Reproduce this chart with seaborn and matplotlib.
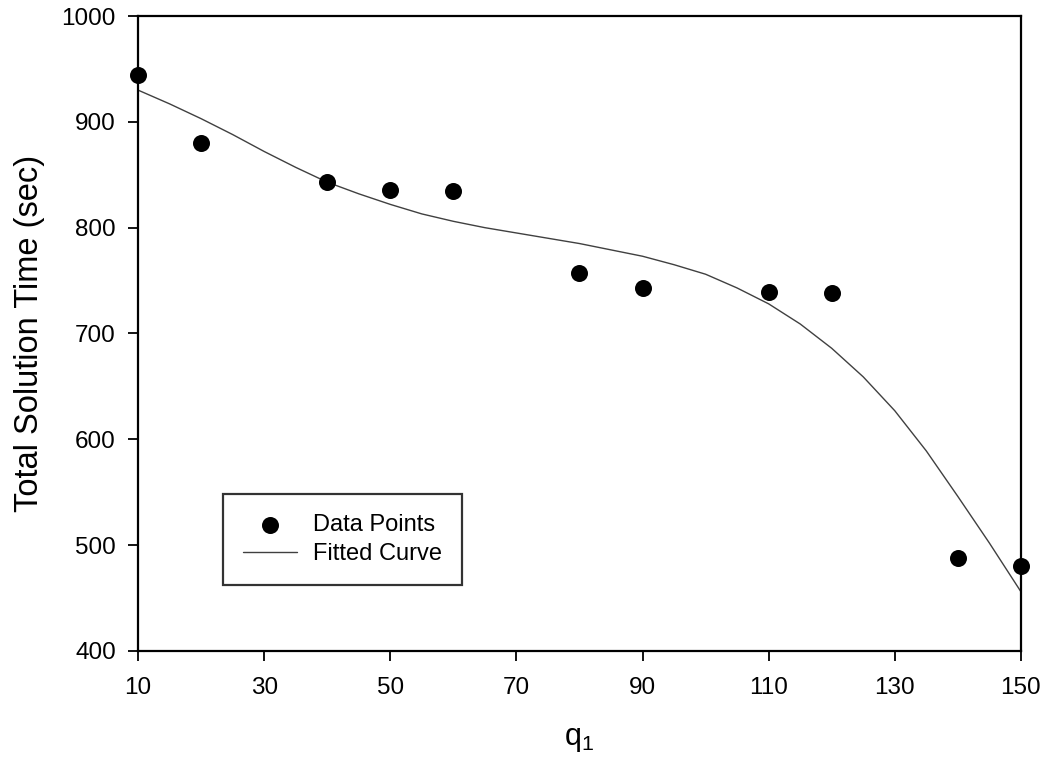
import matplotlib
matplotlib.use("Agg")
import matplotlib.pyplot as plt
import seaborn as sns
import pandas as pd

# Data points
q1_points = [10, 20, 40, 50, 60, 80, 90, 110, 120, 140, 150]
time_points = [944, 880, 843, 836, 835, 757, 743, 739, 738, 488, 480]

# Fitted curve
q1_curve = [10, 15, 20, 25, 30, 35, 40, 45, 50, 55, 60, 65, 70, 75, 80,
            85, 90, 95, 100, 105, 110, 115, 120, 125, 130, 135, 140, 145, 150]
time_curve = [930, 917, 903, 888, 872, 857, 843, 832, 822, 813, 806, 800, 795, 790, 785,
              779, 773, 765, 756, 743, 728, 709, 686, 659, 627, 589, 546, 502, 456]

x_ticks = [10, 30, 50, 70, 90, 110, 130, 150]
y_ticks = [400, 500, 600, 700, 800, 900, 1000]

sns.set_theme(style="white")
plt.rcParams['font.family'] = ['Liberation Sans', 'DejaVu Sans']
plt.rcParams['text.color'] = 'black'
plt.rcParams['axes.labelcolor'] = 'black'

fig = plt.figure(figsize=(10.46, 7.64), dpi=100)
ax = fig.add_axes([0.132, 0.148, 0.844, 0.831])

df_pts = pd.DataFrame({"q1": q1_points, "t": time_points})
df_curve = pd.DataFrame({"q1": q1_curve, "t": time_curve})

sns.lineplot(data=df_curve, x="q1", y="t", ax=ax, color="#404040", linewidth=1.0,
             label="Fitted Curve", zorder=2)
sns.scatterplot(data=df_pts, x="q1", y="t", ax=ax, color="black", s=150,
                edgecolor="black", linewidth=0, label="Data Points", zorder=3, clip_on=False)

ax.set_xlim(10, 150)
ax.set_ylim(400, 1000)
ax.set_xticks(x_ticks)
ax.set_yticks(y_ticks)
ax.tick_params(axis="both", which="both", direction="out", length=7, width=1.3,
               labelsize=17.5, color="black", labelcolor="black",
               bottom=True, left=True, top=False, right=False)
ax.tick_params(axis="x", pad=12)
ax.tick_params(axis="y", pad=9)
for sp in ax.spines.values():
    sp.set_color("black")
    sp.set_linewidth(1.6)

ax.set_xlabel(r"q$\mathregular{_1}$", fontsize=22, labelpad=18, color="black")
ax.set_ylabel("Total Solution Time (sec)", fontsize=23.5, labelpad=12, color="black")

handles, labels = ax.get_legend_handles_labels()
order = [labels.index("Data Points"), labels.index("Fitted Curve")]
leg = ax.legend([handles[i] for i in order], [labels[i] for i in order],
                loc="lower left", bbox_to_anchor=(0.096, 0.104), borderaxespad=0,
                fontsize=17, frameon=True, fancybox=False, handlelength=2.3,
                borderpad=0.85, labelspacing=0.27, handletextpad=0.65,
                labelcolor="black")
leg.get_frame().set_edgecolor("black")
leg.get_frame().set_linewidth(1.6)

fig.savefig("out.png", dpi=100, facecolor="white")
